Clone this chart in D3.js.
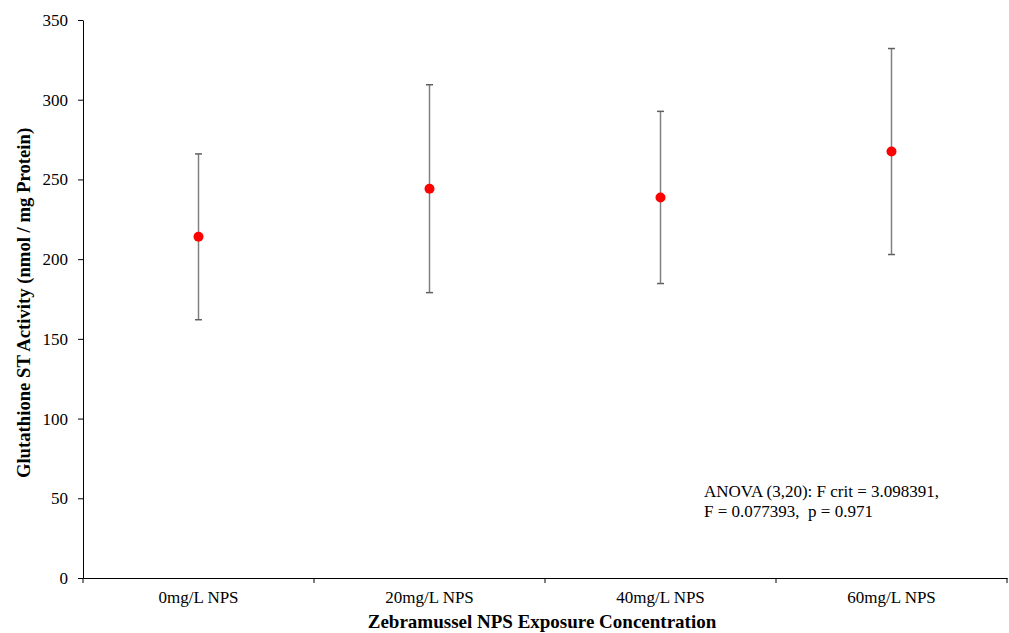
<!DOCTYPE html>
<html><head><meta charset="utf-8">
<script src="https://cdn.jsdelivr.net/npm/d3@7"></script>
<style>body{margin:0;background:#fff}svg{display:block}</style>
</head><body>
<svg id="c" width="1009" height="633"></svg>
<script>
const categories = ["0mg/L NPS", "20mg/L NPS", "40mg/L NPS", "60mg/L NPS"];
const means = [214, 244.2, 238.7, 267.5];
const errors = [52, 65.2, 54, 64.6];
const yTicks = [0, 50, 100, 150, 200, 250, 300, 350];
const annotation = ["ANOVA (3,20): F crit = 3.098391,", "F = 0.077393,  p = 0.971"];

const svg = d3.select("#c");
const m = {left: 83, right: 1007, top: 20, bottom: 578};
const x = d3.scaleBand().domain(categories).range([m.left, m.right]).padding(0);
const y = d3.scaleLinear().domain([0, 350]).range([m.bottom, m.top]);
const font = "'Liberation Serif','Times New Roman',serif";

const yAxis = svg.append("g").attr("transform", `translate(${m.left},0)`)
  .call(d3.axisLeft(y).tickValues(yTicks).tickSize(5).tickPadding(10).tickSizeOuter(0));
yAxis.selectAll("text").style("font-family", font).style("font-size", "17px").attr("fill", "#000");
yAxis.selectAll("line,path").attr("stroke", "#000");

const xAxis = svg.append("g").attr("transform", `translate(0,${m.bottom})`)
  .call(d3.axisBottom(x).tickSize(0).tickPadding(13));
xAxis.selectAll("text").style("font-family", font).style("font-size", "17px").attr("fill", "#000");
xAxis.select("path").attr("stroke", "#000");
// boundary ticks
const bounds = categories.map(c => x(c)).concat([m.right]);
xAxis.selectAll("line.b").data(bounds).enter().append("line")
  .attr("x1", d => d).attr("x2", d => d).attr("y1", 0).attr("y2", 5).attr("stroke", "#000");

const g = svg.append("g");
categories.forEach((c, i) => {
  const cx = x(c) + x.bandwidth() / 2;
  const top = y(means[i] + errors[i]), bot = y(means[i] - errors[i]);
  g.append("line").attr("x1", cx).attr("x2", cx).attr("y1", top).attr("y2", bot)
    .attr("stroke", "#808080").attr("stroke-width", 1.5);
  [top, bot].forEach(v => g.append("line").attr("x1", cx - 3.5).attr("x2", cx + 3.5)
    .attr("y1", v).attr("y2", v).attr("stroke", "#606060").attr("stroke-width", 1.5));
  g.append("circle").attr("cx", cx).attr("cy", y(means[i])).attr("r", 5).attr("fill", "#ff0000");
});

svg.append("text").attr("x", 542).attr("y", 628).attr("text-anchor", "middle")
  .style("font-family", font).style("font-size", "19px").style("font-weight", "bold")
  .text("Zebramussel NPS Exposure Concentration");
svg.append("text").attr("transform", `translate(30,303) rotate(-90)`)
  .attr("text-anchor", "middle")
  .style("font-family", font).style("font-size", "18.7px").style("font-weight", "bold")
  .text("Glutathione ST Activity (nmol / mg Protein)");

const ann = svg.append("text").attr("x", 704).attr("y", 497)
  .style("font-family", font).style("font-size", "17px").attr("fill", "#000");
annotation.forEach((t, i) => ann.append("tspan").attr("x", 704).attr("dy", i ? 20 : 0)
  .style("white-space", "pre").text(t));
</script>
</body></html>
